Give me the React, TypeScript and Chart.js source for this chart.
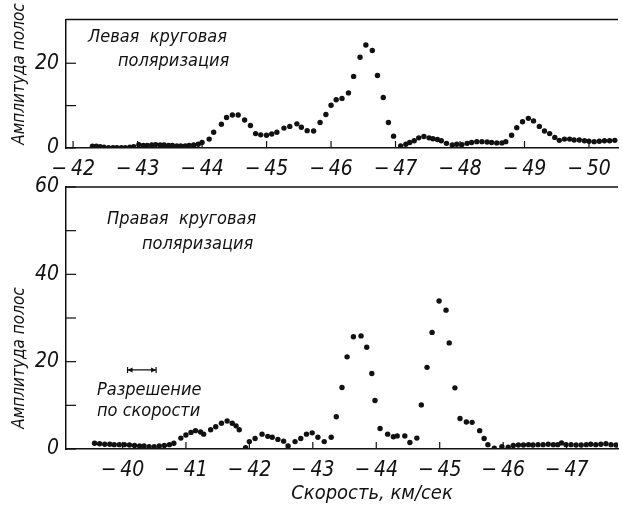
import React, { useEffect, useRef } from "react";
import { Chart, registerables } from "chart.js";

Chart.register(...registerables);

// ---- Data: left circular polarization (top panel) ----
const leftVel = [
  -42.30, -42.36, -42.42, -42.48, -42.55, -42.62, -42.68, -42.75, -42.81, -42.88, -42.94,
  -43.02, -43.09, -43.15, -43.22, -43.28, -43.35, -43.41, -43.48, -43.54, -43.61, -43.67,
  -43.74, -43.80, -43.87, -43.94, -44.00, -44.11, -44.18, -44.30, -44.38, -44.47, -44.56,
  -44.66, -44.75, -44.83, -44.91, -45.00, -45.08, -45.16, -45.27, -45.36, -45.47, -45.54,
  -45.63, -45.73, -45.83, -45.92, -46.00, -46.08, -46.17, -46.27, -46.35, -46.45, -46.54,
  -46.64, -46.72, -46.81, -46.89, -46.97, -47.08, -47.16, -47.22, -47.29, -47.36, -47.44,
  -47.52, -47.58, -47.65, -47.71, -47.79, -47.88, -47.95, -48.03, -48.11, -48.18, -48.26,
  -48.34, -48.42, -48.49, -48.57, -48.65, -48.71, -48.80, -48.88, -48.97, -49.06, -49.14,
  -49.23, -49.31, -49.39, -49.47, -49.54, -49.62, -49.70, -49.77, -49.85, -49.93, -50.00,
  -50.08, -50.16, -50.24, -50.32, -50.40,
];
const leftAmp = [
  0.4, 0.4, 0.3, 0.2, 0.1, 0.1, 0.1, 0.1, 0.1, 0.2, 0.3,
  0.8, 0.6, 0.6, 0.7, 0.8, 0.7, 0.7, 0.6, 0.6, 0.5, 0.5,
  0.5, 0.6, 0.7, 0.9, 1.3, 2.1, 3.7, 5.6, 7.2, 7.8, 7.8,
  6.6, 5.3, 3.4, 3.1, 3.0, 3.3, 3.7, 4.7, 5.1, 5.7, 4.9,
  4.1, 4.0, 6.0, 7.9, 10.1, 11.4, 11.7, 13.0, 16.9, 21.4, 24.3,
  23.0, 17.1, 11.9, 6.0, 2.8, 0.5, 0.9, 1.3, 1.7, 2.4, 2.7,
  2.4, 2.2, 2.0, 1.7, 1.1, 0.7, 0.9, 0.8, 1.1, 1.3, 1.5,
  1.5, 1.4, 1.3, 1.2, 1.2, 1.5, 3.0, 4.8, 6.2, 7.0, 6.4,
  5.1, 4.0, 3.4, 2.5, 1.8, 2.1, 2.1, 1.9, 1.9, 1.7, 1.6,
  1.5, 1.6, 1.7, 1.7, 1.8,
];

// ---- Data: right circular polarization (bottom panel) ----
const rightVel = [
  -39.56, -39.64, -39.72, -39.80, -39.87, -39.95, -40.03, -40.11, -40.19, -40.27, -40.34,
  -40.42, -40.50, -40.58, -40.66, -40.74, -40.81, -40.92, -41.00, -41.08, -41.15, -41.23,
  -41.28, -41.39, -41.47, -41.56, -41.65, -41.73, -41.79, -41.84, -41.94, -42.00, -42.09,
  -42.20, -42.29, -42.36, -42.45, -42.54, -42.61, -42.72, -42.81, -42.90, -42.99, -43.08,
  -43.18, -43.29, -43.37, -43.46, -43.54, -43.64, -43.76, -43.85, -43.93, -43.98, -44.06,
  -44.18, -44.27, -44.33, -44.45, -44.53, -44.64, -44.71, -44.80, -44.88, -44.99, -45.10,
  -45.15, -45.24, -45.32, -45.42, -45.51, -45.63, -45.70, -45.76, -45.86, -45.98, -46.08,
  -46.16, -46.24, -46.32, -46.40, -46.47, -46.55, -46.63, -46.71, -46.79, -46.86, -46.92,
  -46.99, -47.07, -47.15, -47.23, -47.31, -47.38, -47.46, -47.54, -47.62, -47.70, -47.78,
];
const rightAmp = [
  1.3, 1.2, 1.1, 1.1, 1.0, 1.0, 1.0, 0.9, 0.8, 0.7, 0.7,
  0.5, 0.5, 0.7, 0.8, 1.0, 1.3, 2.5, 3.2, 3.8, 4.2, 3.9,
  3.4, 4.4, 5.1, 5.9, 6.4, 5.9, 5.3, 4.4, 0.3, 1.7, 2.4,
  3.4, 2.9, 2.7, 2.2, 1.8, 0.7, 1.7, 2.4, 3.4, 3.7, 2.7,
  1.7, 2.7, 7.4, 14.1, 21.1, 25.7, 25.9, 23.3, 17.3, 11.1, 4.7,
  3.4, 2.8, 3.0, 3.0, 1.5, 2.5, 10.1, 18.7, 26.7, 33.9, 31.8,
  24.3, 14.0, 7.0, 6.2, 6.1, 4.2, 2.4, 1.0, 0.2, 0.5, 0.4,
  0.8, 0.9, 0.9, 1.0, 0.9, 1.0, 1.0, 1.1, 1.0, 1.0, 1.4,
  1.0, 1.0, 0.9, 0.9, 1.0, 1.1, 1.0, 1.1, 1.2, 1.0, 0.9,
];

// ---- Axis settings / labels ----
const topXRange = [-50.45, -41.89];
const topYRange = [0, 30.3];
const bottomXRange = [-47.81, -39.11];
const bottomYRange = [0, 60];
const topYMarks = [0, 10, 20];
const bottomYMarks = [0, 10, 20, 30, 40, 50, 60];
const resolutionFrom = -40.08;
const resolutionTo = -40.53;
const resolutionLevel = 18.1;

const yTitle = "Амплитуда полос";
const xTitle = "Скорость, км/сек";
const topNote = ["Левая  круговая", "поляризация"];
const bottomNote = ["Правая  круговая", "поляризация"];
const resNote = ["Разрешение", "по скорости"];

const FONT = "'Liberation Sans Narrow', 'DejaVu Sans Condensed', 'DejaVu Sans', sans-serif";
const INK = "#111111";

type Note = { text: string; x: number; y: number; size: number; rotate?: boolean; align?: CanvasTextAlign };

function makeOverlay(id: string, yMarks: number[], notes: Note[], resolution: boolean) {
  return {
    id,
    afterDraw(chart: any) {
      const { ctx, chartArea: a, scales } = chart;
      ctx.save();
      ctx.strokeStyle = INK;
      ctx.fillStyle = INK;
      ctx.lineWidth = 1.5;
      ctx.beginPath();
      ctx.moveTo(a.left, a.top);
      ctx.lineTo(a.right, a.top);
      ctx.stroke();
      ctx.lineWidth = 1.2;
      scales.x.ticks.forEach((t: any) => {
        const px = scales.x.getPixelForValue(t.value);
        ctx.beginPath();
        ctx.moveTo(px, a.bottom);
        ctx.lineTo(px, a.bottom - 7);
        ctx.stroke();
      });
      yMarks.forEach((v) => {
        const py = scales.y.getPixelForValue(v);
        ctx.beginPath();
        ctx.moveTo(a.left, py);
        ctx.lineTo(a.left + 10, py);
        ctx.stroke();
      });
      if (resolution) {
        const x1 = scales.x.getPixelForValue(resolutionFrom);
        const x2 = scales.x.getPixelForValue(resolutionTo);
        const yy = scales.y.getPixelForValue(resolutionLevel);
        ctx.lineWidth = 1.2;
        ctx.beginPath();
        ctx.moveTo(x1, yy);
        ctx.lineTo(x2, yy);
        ctx.moveTo(x1, yy - 3);
        ctx.lineTo(x1, yy + 3);
        ctx.moveTo(x2, yy - 3);
        ctx.lineTo(x2, yy + 3);
        ctx.stroke();
        ctx.beginPath();
        ctx.moveTo(x1, yy);
        ctx.lineTo(x1 + 5, yy - 2.5);
        ctx.lineTo(x1 + 5, yy + 2.5);
        ctx.closePath();
        ctx.moveTo(x2, yy);
        ctx.lineTo(x2 - 5, yy - 2.5);
        ctx.lineTo(x2 - 5, yy + 2.5);
        ctx.closePath();
        ctx.fill();
      }
      notes.forEach((n) => {
        ctx.font = `italic ${n.size}px ${FONT}`;
        ctx.textBaseline = "middle";
        ctx.textAlign = n.align || "left";
        if (n.rotate) {
          ctx.save();
          ctx.translate(n.x, n.y);
          ctx.rotate(-Math.PI / 2);
          ctx.textAlign = "center";
          ctx.fillText(n.text, 0, 0);
          ctx.restore();
        } else {
          ctx.fillText(n.text, n.x, n.y);
        }
      });
      ctx.restore();
    },
  };
}

function buildConfig(
  xs: number[],
  ys: number[],
  xr: number[],
  yr: number[],
  padTop: number,
  yWidth: number,
  xHeight: number,
  plugin: any
): any {
  const tickFont = { family: FONT, size: 21, style: "italic" as const };
  return {
    type: "scatter",
    data: {
      datasets: [
        {
          data: xs.map((x, i) => ({ x, y: ys[i] })),
          pointRadius: 2.7,
          pointBackgroundColor: INK,
          pointBorderWidth: 0,
          showLine: false,
        },
      ],
    },
    options: {
      animation: false,
      responsive: false,
      maintainAspectRatio: false,
      layout: { padding: { top: padTop, left: 0, right: 0, bottom: 0 } },
      plugins: { legend: { display: false }, tooltip: { enabled: false } },
      scales: {
        x: {
          type: "linear",
          reverse: true,
          min: xr[0],
          max: xr[1],
          afterFit: (s: any) => {
            s.height = xHeight;
          },
          grid: { display: false, drawTicks: false },
          border: { display: true, color: INK, width: 1.5 },
          ticks: {
            stepSize: 1,
            includeBounds: false,
            autoSkip: false,
            maxRotation: 0,
            padding: 9,
            color: INK,
            font: tickFont,
            callback: (v: any) => "\u2212\u2009" + Math.abs(Number(v)),
          },
        },
        y: {
          min: yr[0],
          max: yr[1],
          afterFit: (s: any) => {
            s.width = yWidth;
          },
          grid: { display: false, drawTicks: false },
          border: { display: true, color: INK, width: 1.5 },
          ticks: {
            stepSize: 10,
            includeBounds: false,
            padding: 7,
            color: INK,
            font: tickFont,
            callback: (v: any) => (Number(v) % 20 === 0 ? String(v) : ""),
          },
        },
      },
    },
    plugins: [plugin],
  };
}

export default function App() {
  const topRef = useRef<HTMLCanvasElement | null>(null);
  const botRef = useRef<HTMLCanvasElement | null>(null);

  useEffect(() => {
    const topNotes: Note[] = [
      { text: topNote[0], x: 88, y: 37, size: 18 },
      { text: topNote[1], x: 118, y: 61, size: 18 },
      { text: yTitle, x: 20, y: 74, size: 17, rotate: true },
    ];
    const botNotes: Note[] = [
      { text: bottomNote[0], x: 107, y: 59, size: 18 },
      { text: bottomNote[1], x: 142, y: 84, size: 18 },
      { text: resNote[0], x: 97, y: 230, size: 18 },
      { text: resNote[1], x: 97, y: 251, size: 18 },
      { text: yTitle, x: 20, y: 198, size: 17, rotate: true },
      { text: xTitle, x: 372, y: 334, size: 20, align: "center" },
    ];
    const c1 = new Chart(
      topRef.current as HTMLCanvasElement,
      buildConfig(leftVel, leftAmp, topXRange, topYRange, 16, 66, 32, makeOverlay("topOverlay", topYMarks, topNotes, false))
    );
    const c2 = new Chart(
      botRef.current as HTMLCanvasElement,
      buildConfig(rightVel, rightAmp, bottomXRange, bottomYRange, 27, 66, 63, makeOverlay("botOverlay", bottomYMarks, botNotes, true))
    );
    return () => {
      c1.destroy();
      c2.destroy();
    };
  }, []);

  return (
    <div style={{ position: "fixed", left: 0, top: 0, width: 622, height: 512, background: "#fff", overflow: "hidden" }}>
      <canvas ref={topRef} width={622} height={180} style={{ position: "absolute", left: 0, top: 0, width: 622, height: 180 }} />
      <canvas ref={botRef} width={622} height={352} style={{ position: "absolute", left: 0, top: 160, width: 622, height: 352 }} />
    </div>
  );
}
